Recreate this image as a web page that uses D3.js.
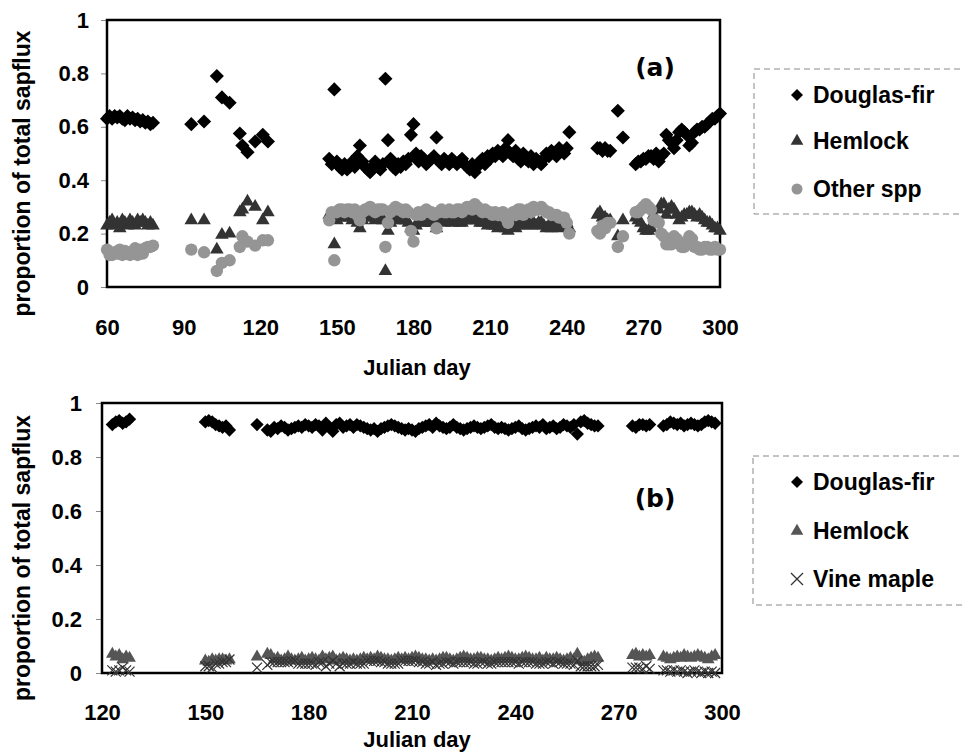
<html>
<script src="https://d3js.org/d3.v7.min.js"></script>
<style>
    body { margin: 0; background: #fff; }
    text { font-family: "Liberation Sans", Arial, sans-serif; font-weight: bold; fill: #000; }
</style>
<body>
<svg id="chart" width="962" height="756"></svg>
<script>
// ---- panel (a): Julian day and proportion of total sapflux ----
const aDays = [60,61,62,63,64,65,66,67,68,69,70,71,72,73,74,75,76,77,78,
    93,98,103,105,108,112,113,115,118,121,123,
    147,148,149,150,151,152,153,154,155,156,157,158,159,160,161,162,163,164,165,166,
    167,168,169,170,171,172,173,174,175,176,177,178,179,180,181,182,183,184,185,186,
    187,188,189,190,191,192,193,194,195,196,197,198,199,200,201,202,203,204,205,206,
    207,208,209,210,211,212,213,214,215,216,217,218,219,220,221,222,223,224,225,226,
    227,228,229,230,231,232,233,234,235,236,237,238,239,240,241,
    252,253,254,255,256,257,260,262,
    267,268,269,270,271,272,273,274,275,276,277,278,279,280,281,282,283,284,285,286,
    287,288,289,290,291,292,293,294,295,296,297,298,299,300];
const aFir = [.63,.64,.63,.64,.635,.64,.63,.625,.64,.63,.635,.625,.63,.62,.625,.615,.62,.61,.615,
    .61,.62,.79,.71,.69,.575,.53,.505,.545,.57,.545,
    .48,.46,.74,.47,.45,.44,.46,.44,.45,.47,.45,.49,.53,.47,.45,.44,.43,.45,.47,.45,
    .44,.46,.78,.55,.48,.45,.44,.46,.45,.47,.46,.48,.57,.61,.50,.47,.49,.48,.46,.47,
    .48,.49,.56,.47,.46,.48,.47,.46,.48,.47,.46,.47,.48,.46,.45,.44,.46,.43,.45,.47,
    .48,.46,.49,.48,.50,.49,.51,.50,.49,.52,.55,.50,.49,.51,.48,.47,.50,.48,.47,.49,
    .46,.48,.47,.46,.48,.50,.49,.51,.50,.49,.52,.51,.50,.52,.58,
    .52,.52,.51,.52,.51,.51,.66,.56,
    .46,.47,.47,.48,.48,.49,.49,.48,.50,.47,.49,.50,.57,.55,.54,.52,.55,.58,.59,.58,
    .57,.53,.54,.58,.59,.59,.60,.60,.61,.62,.63,.63,.64,.65];
const aHem = [.23,.24,.25,.23,.24,.22,.25,.24,.23,.25,.24,.23,.25,.24,.25,.24,.23,.24,.23,
    .25,.25,.14,.195,.20,.28,.29,.32,.30,.25,.28,
    .27,.26,.16,.25,.26,.27,.26,.27,.26,.25,.26,.24,.22,.25,.26,.27,.27,.26,.25,.26,
    .27,.25,.06,.21,.24,.26,.26,.25,.26,.25,.25,.24,.22,.21,.23,.25,.24,.24,.25,.25,
    .24,.24,.22,.25,.25,.24,.25,.25,.24,.25,.25,.24,.24,.25,.25,.26,.25,.26,.25,.24,
    .24,.25,.23,.24,.23,.23,.22,.23,.23,.22,.21,.23,.23,.22,.23,.24,.23,.24,.24,.23,
    .24,.23,.24,.24,.23,.22,.23,.22,.23,.24,.22,.23,.24,.24,.22,
    .27,.28,.26,.26,.25,.25,.19,.25,
    .26,.25,.24,.22,.21,.21,.22,.27,.25,.29,.31,.31,.27,.29,.30,.29,.27,.25,.26,.27,
    .27,.28,.28,.27,.26,.27,.26,.25,.24,.24,.23,.22,.22,.21];
const aOther = [.14,.12,.12,.13,.125,.14,.12,.135,.13,.12,.125,.145,.12,.14,.125,.145,.15,.15,.155,
    .14,.13,.06,.09,.10,.15,.19,.17,.155,.175,.175,
    .25,.28,.10,.28,.29,.29,.28,.29,.29,.28,.29,.27,.25,.28,.29,.29,.30,.29,.28,.29,
    .29,.29,.15,.24,.28,.29,.30,.29,.29,.28,.29,.28,.21,.17,.27,.28,.27,.28,.29,.28,
    .28,.27,.22,.28,.29,.28,.28,.29,.28,.28,.29,.29,.28,.29,.30,.30,.29,.31,.30,.29,
    .28,.29,.28,.28,.27,.28,.27,.27,.28,.26,.24,.27,.28,.27,.29,.29,.27,.28,.29,.28,
    .30,.29,.29,.30,.29,.28,.28,.27,.27,.27,.26,.26,.26,.24,.20,
    .21,.20,.23,.22,.24,.24,.15,.19,
    .28,.28,.29,.30,.31,.30,.29,.25,.25,.24,.20,.19,.16,.16,.16,.19,.18,.17,.15,.15,
    .16,.19,.18,.15,.15,.14,.14,.15,.15,.14,.14,.15,.14,.14];

// ---- panel (b) ----
const bDays = [123,124,125,126,127,128,
    150,151,152,153,154,155,156,157,
    165,
    168,169,170,171,172,173,174,175,176,177,178,179,180,181,182,183,184,185,186,187,
    188,189,190,191,192,193,194,195,196,197,198,199,200,201,202,203,204,205,206,207,
    208,209,210,211,212,213,214,215,216,217,218,219,220,221,222,223,224,225,226,227,
    228,229,230,231,232,233,234,235,236,237,238,239,240,241,242,243,244,245,246,247,
    248,249,250,251,252,253,254,255,256,257,258,259,260,261,262,263,264,
    274,275,276,277,278,279,
    283,284,285,286,287,288,289,290,291,292,293,294,295,296,297,298];
const bFir = [.92,.93,.935,.925,.93,.94,
    .93,.935,.93,.92,.915,.91,.915,.90,
    .92,
    .90,.895,.91,.905,.915,.91,.90,.905,.91,.915,.91,.92,.915,.91,.92,.915,.90,.925,.91,.895,
    .92,.925,.91,.915,.92,.91,.92,.915,.91,.905,.90,.905,.895,.905,.91,.915,.92,.915,.91,.905,
    .90,.905,.90,.895,.905,.91,.915,.92,.91,.925,.915,.91,.905,.91,.92,.91,.905,.90,.905,.91,
    .915,.91,.905,.91,.915,.92,.91,.905,.91,.905,.90,.905,.91,.915,.905,.90,.905,.91,.915,.91,
    .92,.905,.91,.915,.905,.91,.92,.915,.91,.92,.885,.93,.935,.925,.92,.915,.915,
    .915,.91,.92,.92,.915,.92,
    .915,.92,.93,.925,.92,.925,.915,.92,.925,.92,.915,.92,.93,.935,.93,.925];
const bHem = [.07,.06,.065,.05,.06,.055,
    .045,.04,.05,.045,.05,.05,.045,.05,
    .06,
    .07,.065,.05,.055,.045,.05,.06,.05,.045,.05,.055,.045,.05,.055,.05,.045,.06,.05,.055,.06,
    .045,.05,.055,.05,.045,.05,.045,.05,.055,.05,.055,.05,.06,.055,.05,.05,.045,.05,.055,.05,
    .055,.05,.055,.06,.055,.05,.05,.045,.05,.045,.05,.055,.055,.05,.045,.05,.055,.06,.055,.05,
    .05,.055,.055,.05,.05,.045,.05,.055,.05,.055,.06,.055,.05,.05,.055,.06,.055,.05,.05,.055,
    .045,.055,.05,.05,.055,.05,.045,.05,.055,.05,.07,.045,.04,.05,.055,.06,.055,
    .065,.07,.06,.065,.06,.065,
    .06,.055,.05,.055,.06,.055,.065,.06,.055,.06,.065,.06,.055,.05,.06,.065];
const bVine = [.01,.005,.01,.02,.01,.005,
    .025,.025,.02,.035,.035,.04,.04,.05,
    .02,
    .03,.04,.04,.04,.04,.04,.04,.045,.045,.035,.035,.035,.035,.035,.03,.04,.04,.025,.035,.045,
    .035,.025,.035,.035,.035,.04,.035,.035,.035,.045,.045,.045,.045,.04,.04,.035,.035,.035,.035,.045,
    .045,.045,.045,.045,.04,.04,.035,.035,.04,.03,.035,.035,.04,.04,.035,.04,.04,.04,.04,.04,
    .035,.035,.04,.04,.035,.035,.04,.04,.04,.04,.04,.04,.04,.035,.04,.04,.04,.04,.035,.035,
    .035,.04,.04,.035,.04,.04,.035,.035,.035,.03,.045,.025,.025,.025,.025,.025,.03,
    .02,.02,.02,.015,.025,.015,
    .01,.01,.005,.01,.005,.01,.005,0,.005,.01,.005,0,.005,0,.005,0];

const yTicks = [0, 0.2, 0.4, 0.6, 0.8, 1];
const aXTicks = [60, 90, 120, 150, 180, 210, 240, 270, 300];
const bXTicks = [120, 150, 180, 210, 240, 270, 300];

const svg = d3.select("#chart");

// build one panel: frame, axes, labels; returns the scales
function panel(p) {
    const x = d3.scaleLinear().domain(p.xDomain).range([p.left, p.right]);
    const y = d3.scaleLinear().domain([0, 1]).range([p.bottom, p.top]);

    svg.append("g")
        .attr("transform", `translate(${p.left},0)`)
        .call(d3.axisLeft(y).tickValues(yTicks).tickFormat(d3.format(""))
            .tickSizeInner(6).tickSizeOuter(0).tickPadding(p.yPad))
        .call(a => {
            a.select(".domain").remove();
            a.selectAll("line").attr("stroke", "#888");
            a.selectAll("text").style("font-size", "22px");
        });

    svg.append("g")
        .attr("transform", `translate(0,${p.bottom})`)
        .call(d3.axisBottom(x).tickValues(p.xTicks).tickFormat(d3.format("d"))
            .tickSizeInner(0).tickSizeOuter(0).tickPadding(p.xPad))
        .call(a => {
            a.select(".domain").remove();
            a.selectAll("text").style("font-size", "22px");
        });

    svg.append("rect")
        .attr("x", p.left).attr("y", p.top)
        .attr("width", p.right - p.left).attr("height", p.bottom - p.top)
        .attr("fill", "none").attr("stroke", "#000").attr("stroke-width", 2.5);

    // axis titles
    svg.append("text")
        .attr("transform", `translate(30,${(p.top + p.bottom) / 2 + 20}) rotate(-90)`)
        .attr("text-anchor", "middle")
        .style("font-size", "23px")
        .text("proportion of total sapflux");
    svg.append("text")
        .attr("x", 417).attr("y", p.titleY)
        .attr("text-anchor", "middle")
        .style("font-size", "22px")
        .text("Julian day");

    // panel letter
    svg.append("text")
        .attr("x", 655).attr("y", p.letterY)
        .attr("text-anchor", "middle")
        .style("font-family", "'DejaVu Sans', sans-serif")
        .style("font-size", "25px")
        .text(p.letter);

    return { x, y };
}

const diamond = s => d3.symbol(d3.symbolSquare, s);
const tri = s => d3.symbol(d3.symbolTriangle, s);
const cross = (cx, cy, r) => `M${cx - r},${cy - r}L${cx + r},${cy + r}M${cx - r},${cy + r}L${cx + r},${cy - r}`;

function drawDiamonds(sc, days, vals, size) {
    svg.append("g").selectAll("path").data(days).enter().append("path")
        .attr("d", diamond(size))
        .attr("transform", (d, i) => `translate(${sc.x(d)},${sc.y(vals[i])}) rotate(45)`)
        .attr("fill", "#000");
}
function drawTriangles(sc, days, vals, size, color) {
    svg.append("g").selectAll("path").data(days).enter().append("path")
        .attr("d", tri(size))
        .attr("transform", (d, i) => `translate(${sc.x(d)},${sc.y(vals[i])})`)
        .attr("fill", color);
}

// legend box with three entries
function legend(x0, y0, h, rows) {
    svg.append("rect")
        .attr("x", x0).attr("y", y0).attr("width", 230).attr("height", h)
        .attr("fill", "none").attr("stroke", "#888").attr("stroke-width", 1)
        .attr("stroke-dasharray", "6 4");
    rows.forEach(r => {
        const cy = r.y - 8;
        if (r.kind === "diamond") {
            svg.append("path").attr("d", diamond(72)).attr("fill", "#000")
                .attr("transform", `translate(797,${cy}) rotate(45)`);
        } else if (r.kind === "tri") {
            svg.append("path").attr("d", tri(70)).attr("fill", r.color)
                .attr("transform", `translate(797,${cy})`);
        } else if (r.kind === "circle") {
            svg.append("circle").attr("cx", 797).attr("cy", cy).attr("r", 5.5).attr("fill", r.color);
        } else {
            svg.append("path").attr("d", cross(797, cy, 6)).attr("stroke", "#333")
                .attr("stroke-width", 1.3).attr("fill", "none");
        }
        svg.append("text").attr("x", 813).attr("y", r.y)
            .style("font-size", "23px").text(r.label);
    });
}

// ---- panel (a)
const A = panel({ left: 107, right: 720, top: 20, bottom: 287, xDomain: [60, 300],
    xTicks: aXTicks, yPad: 12, xPad: 32, titleY: 375, letter: "(a)", letterY: 76 });
drawDiamonds(A, aDays, aFir, 100);
drawTriangles(A, aDays, aHem, 80, "#333");
svg.append("g").selectAll("circle").data(aDays).enter().append("circle")
    .attr("cx", d => A.x(d))
    .attr("cy", (d, i) => A.y(aOther[i]))
    .attr("r", 6.2)
    .attr("fill", "#959595");

legend(754, 69, 145, [
    { kind: "diamond", label: "Douglas-fir", y: 103 },
    { kind: "tri", color: "#333", label: "Hemlock", y: 149 },
    { kind: "circle", color: "#959595", label: "Other spp", y: 197 }
]);

// ---- panel (b)
const B = panel({ left: 102, right: 722, top: 403, bottom: 673, xDomain: [120, 300],
    xTicks: bXTicks, yPad: 14, xPad: 31, titleY: 747, letter: "(b)", letterY: 507 });
drawDiamonds(B, bDays, bFir, 88);
drawTriangles(B, bDays, bHem, 70, "#555");
svg.append("g").selectAll("path").data(bDays).enter().append("path")
    .attr("d", (d, i) => cross(B.x(d), B.y(bVine[i]), 5))
    .attr("stroke", "#333").attr("stroke-width", 1.2).attr("fill", "none");

legend(753, 456, 149, [
    { kind: "diamond", label: "Douglas-fir", y: 490 },
    { kind: "tri", color: "#555", label: "Hemlock", y: 539 },
    { kind: "cross", label: "Vine maple", y: 587 }
]);
</script>
</body>
</html>
